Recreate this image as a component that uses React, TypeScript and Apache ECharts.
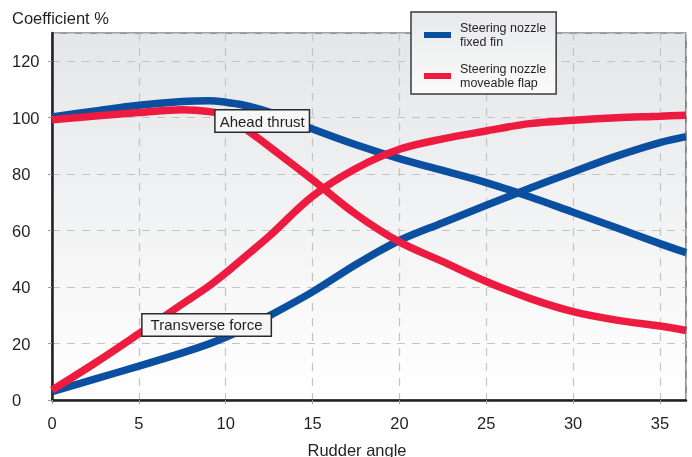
import React, { useEffect, useRef } from "react";
import * as echarts from "echarts";

// Rudder angle (degrees)
const angles = [0, 2.5, 5, 7.5, 9, 10, 11, 12.5, 15, 17.5, 20, 22.5, 25, 27.5, 30, 32.5, 35, 36.5];

// Steering nozzle, fixed fin
const fixedFinAhead = [100.3, 102.4, 104.4, 105.7, 106, 105.5, 104.5, 102, 96, 90.4, 85.5, 81.3, 77, 72, 66.5, 61, 55.4, 52.2];
const fixedFinTransverse = [3, 7.5, 12, 16.7, 19.8, 22.2, 25, 29.8, 38.3, 48, 56.5, 62.8, 69, 75, 80.8, 86.4, 91.2, 93.3];

// Steering nozzle, moveable flap
const flapAhead = [99.3, 100.6, 101.8, 102.8, 102.2, 100.8, 96.6, 89.8, 78, 65.8, 56, 49, 42, 36, 31.3, 28.3, 26.2, 24.6];
const flapTransverse = [3.5, 13.2, 23.5, 34, 40.2, 45, 50.2, 58, 72.2, 82, 88.8, 92.5, 95.3, 97.9, 99.1, 100, 100.5, 100.9];

const seriesNames = ["Steering nozzle\nfixed fin", "Steering nozzle\nmoveable flap"];
const yTitle = "Coefficient %";
const xTitle = "Rudder angle";
const annotations = [
  { text: "Ahead thrust", at: [12.1, 98.8], pad: [3, 4, 3, 4] },
  { text: "Transverse force", at: [8.9, 26.6], pad: [3, 8, 3, 8] },
];

const BLUE = "#0a4fa0";
const RED = "#ee1b40";
const TEXT = "#231f20";
const FONT = "'Liberation Sans', Arial, Helvetica, sans-serif";

const pairs = (ys: number[]) => angles.map((a, i) => [a, ys[i]]);

export default function App() {
  const ref = useRef<HTMLDivElement>(null);
  useEffect(() => {
    if (!ref.current) return;
    const chart = echarts.init(ref.current, undefined, { renderer: "svg" });
    const lineSeries = (name: string, ys: number[], color: string, extra: any = {}) => ({
      type: "line",
      name,
      data: pairs(ys),
      smooth: 0.35,
      symbol: "none",
      lineStyle: { color, width: 7.5 },
      itemStyle: { color },
      ...extra,
    });
    chart.setOption({
      animation: false,
      textStyle: { fontFamily: FONT },
      title: {
        text: yTitle,
        left: 12,
        top: 9,
        padding: 0,
        textStyle: { fontSize: 16.5, fontWeight: "normal", color: TEXT, fontFamily: FONT },
      },
      legend: {
        data: seriesNames,
        left: 411,
        top: 12,
        orient: "vertical",
        icon: "rect",
        itemWidth: 27,
        itemHeight: 6,
        itemGap: 13,
        padding: [9, 10, 4, 13],
        backgroundColor: new echarts.graphic.LinearGradient(0, 0, 0, 1, [
          { offset: 0, color: "#e8e9eb" },
          { offset: 1, color: "#fbfbfb" },
        ]),
        borderColor: "#3a3a3a",
        borderWidth: 1.5,
        textStyle: { fontSize: 12.5, lineHeight: 14, color: TEXT, fontFamily: FONT, padding: [0, 0, 0, 4] },
      },
      grid: {
        left: 52,
        right: 6,
        top: 33,
        bottom: 57,
        show: true,
        outerBoundsMode: "none",
        containLabel: false,
        backgroundColor: new echarts.graphic.LinearGradient(0, 0, 0, 1, [
          { offset: 0, color: "#e5e6e8" },
          { offset: 1, color: "#ffffff" },
        ]),
        borderColor: "#444",
        borderWidth: 1.2,
      },
      xAxis: {
        type: "value",
        min: 0,
        max: 36.5,
        interval: 5,
        name: xTitle,
        nameLocation: "middle",
        nameGap: 41,
        nameTextStyle: { fontSize: 16.5, color: TEXT, padding: [0, 24, 0, 0] },
        axisLine: { show: true, lineStyle: { color: TEXT, width: 2.5 } },
        axisTick: { show: true, length: 4, lineStyle: { color: "#999" } },
        axisLabel: { fontSize: 16.5, color: TEXT, margin: 14, showMaxLabel: false },
        splitLine: { show: true, lineStyle: { color: "#c4c4c4", width: 1.2, type: [8, 7] } },
      },
      yAxis: {
        type: "value",
        min: 0,
        max: 130,
        interval: 20,
        axisLine: { show: true, lineStyle: { color: TEXT, width: 2.5 } },
        axisTick: { show: true, length: 4, lineStyle: { color: "#999" } },
        axisLabel: { fontSize: 16.5, color: TEXT, margin: 40, align: "left", showMaxLabel: false },
        splitLine: { show: true, lineStyle: { color: "#c4c4c4", width: 1.2, type: [8, 7] } },
      },
      series: [
        lineSeries(seriesNames[0], fixedFinAhead, BLUE),
        lineSeries(seriesNames[0], fixedFinTransverse, BLUE),
        lineSeries(seriesNames[1], flapAhead, RED),
        lineSeries(seriesNames[1], flapTransverse, RED, {
          markPoint: {
            z: 10,
            symbol: "rect",
            symbolSize: 0,
            data: annotations.map((a) => ({
              coord: a.at,
              name: a.text,
              value: a.text,
              label: { padding: a.pad },
            })),
            label: {
              show: true,
              position: "inside",
              formatter: (p: any) => p.name,
              fontSize: 15,
              color: TEXT,
              fontFamily: FONT,
              backgroundColor: "#f6f6f6",
              borderColor: "#2a2a2a",
              borderWidth: 1.5,
            },
          },
        }),
      ],
    });
    return () => chart.dispose();
  }, []);
  return <div ref={ref} style={{ position: "fixed", left: 0, top: 0, width: 692, height: 457 }} />;
}
